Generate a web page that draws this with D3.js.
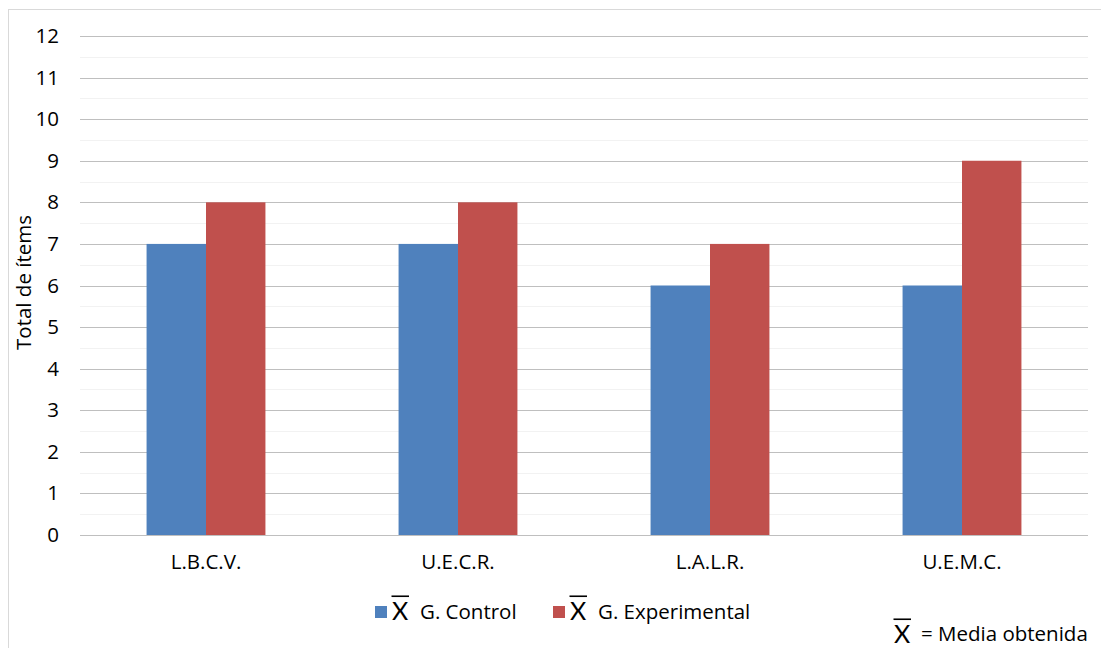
<!DOCTYPE html>
<html><head><meta charset="utf-8">
<script src="https://cdn.jsdelivr.net/npm/d3@7"></script>
<style>body{margin:0;background:#fff;} svg{display:block;font-family:"Open Sans",sans-serif;}</style>
</head><body>
<svg id="c" width="1101" height="648"></svg>
<script>
const categories = ["L.B.C.V.", "U.E.C.R.", "L.A.L.R.", "U.E.M.C."];
const controlValues = [7, 7, 6, 6];
const experimentalValues = [8, 8, 7, 9];
const yTicks = [0,1,2,3,4,5,6,7,8,9,10,11,12];
const seriesNames = ["G. Control", "G. Experimental"];
const colors = ["#4f81bd", "#c0504d"];
const FONT = "'Open Sans', sans-serif";
const FS = 20.5;

const svg = d3.select("#c");
const m = {l: 80, r: 1088, t: 36, b: 535};

svg.append("rect").attr("x", 8.5).attr("y", 9.5).attr("width", 1100).attr("height", 650)
  .attr("fill", "#fff").attr("stroke", "#d9d9d9").attr("stroke-width", 1);

const x = d3.scaleBand().domain(categories).range([m.l, m.r]);
const xs = d3.scaleBand().domain([0,1]).range([0, x.bandwidth()]).paddingInner(0).paddingOuter(1.12);
const y = d3.scaleLinear().domain([0, 12]).range([m.b, m.t]);

// minor gridlines
const minor = d3.range(0.5, 12, 1);
svg.append("g").selectAll("line").data(minor).join("line")
  .attr("x1", m.l).attr("x2", m.r).attr("y1", d => Math.round(y(d)) + 0.5).attr("y2", d => Math.round(y(d)) + 0.5)
  .attr("stroke", "#f2f2f2").attr("stroke-width", 1);
// major gridlines
svg.append("g").selectAll("line").data(yTicks).join("line")
  .attr("x1", m.l).attr("x2", m.r).attr("y1", d => Math.round(y(d)) + 0.5).attr("y2", d => Math.round(y(d)) + 0.5)
  .attr("stroke", "#bfbfbf").attr("stroke-width", 1);

// y axis labels
const yAxis = d3.axisLeft(y).tickValues(yTicks).tickSize(0).tickPadding(0);
const gy = svg.append("g").attr("transform", `translate(${m.l - 21},0)`).call(yAxis);
gy.select(".domain").remove();
gy.selectAll("text").attr("font-size", FS).attr("fill", "#000").attr("font-family", FONT);

// bars
const series = [controlValues, experimentalValues];
series.forEach((vals, si) => {
  svg.append("g").selectAll("rect").data(vals).join("rect")
    .attr("x", (d, i) => x(categories[i]) + xs(si))
    .attr("width", xs.bandwidth())
    .attr("y", d => y(d))
    .attr("height", d => y(0) - y(d))
    .attr("fill", colors[si]);
});

// x axis labels
const xAxis = d3.axisBottom(x).tickSize(0).tickPadding(0);
const gx = svg.append("g").attr("transform", `translate(0,${m.b + 27})`).call(xAxis);
gx.select(".domain").remove();
gx.selectAll("text").attr("font-size", FS).attr("fill", "#000").attr("dy", "0.35em").attr("font-family", FONT);

// y title
svg.append("text").attr("transform", `translate(31,${(m.t + m.b) / 2 - 3}) rotate(-90)`)
  .attr("text-anchor", "middle").attr("font-size", FS).text("Total de ítems");

// X-bar helper
function xbar(g, xpos, ybase, size) {
  g.append("text").attr("x", xpos).attr("y", ybase).attr("font-size", size).attr("font-family", "Lato, sans-serif").text("X");
  g.append("line").attr("x1", xpos - 0.5).attr("x2", xpos + size * 0.68).attr("y1", ybase - size * 0.95).attr("y2", ybase - size * 0.95)
    .attr("stroke", "#000").attr("stroke-width", 1.6);
}

// legend
const leg = svg.append("g");
const legItems = [{x: 375, tx: 420}, {x: 553, tx: 598}];
legItems.forEach((li, i) => {
  leg.append("rect").attr("x", li.x).attr("y", 606).attr("width", 12).attr("height", 12).attr("fill", colors[i]);
  xbar(leg, li.x + 17, 620, 25);
  leg.append("text").attr("x", li.tx).attr("y", 619).attr("font-size", FS).text(seriesNames[i]);
});

// note
xbar(svg, 894, 643, 25);
svg.append("text").attr("x", 921).attr("y", 641).attr("font-size", FS).text("= Media obtenida");
</script>
</body></html>
